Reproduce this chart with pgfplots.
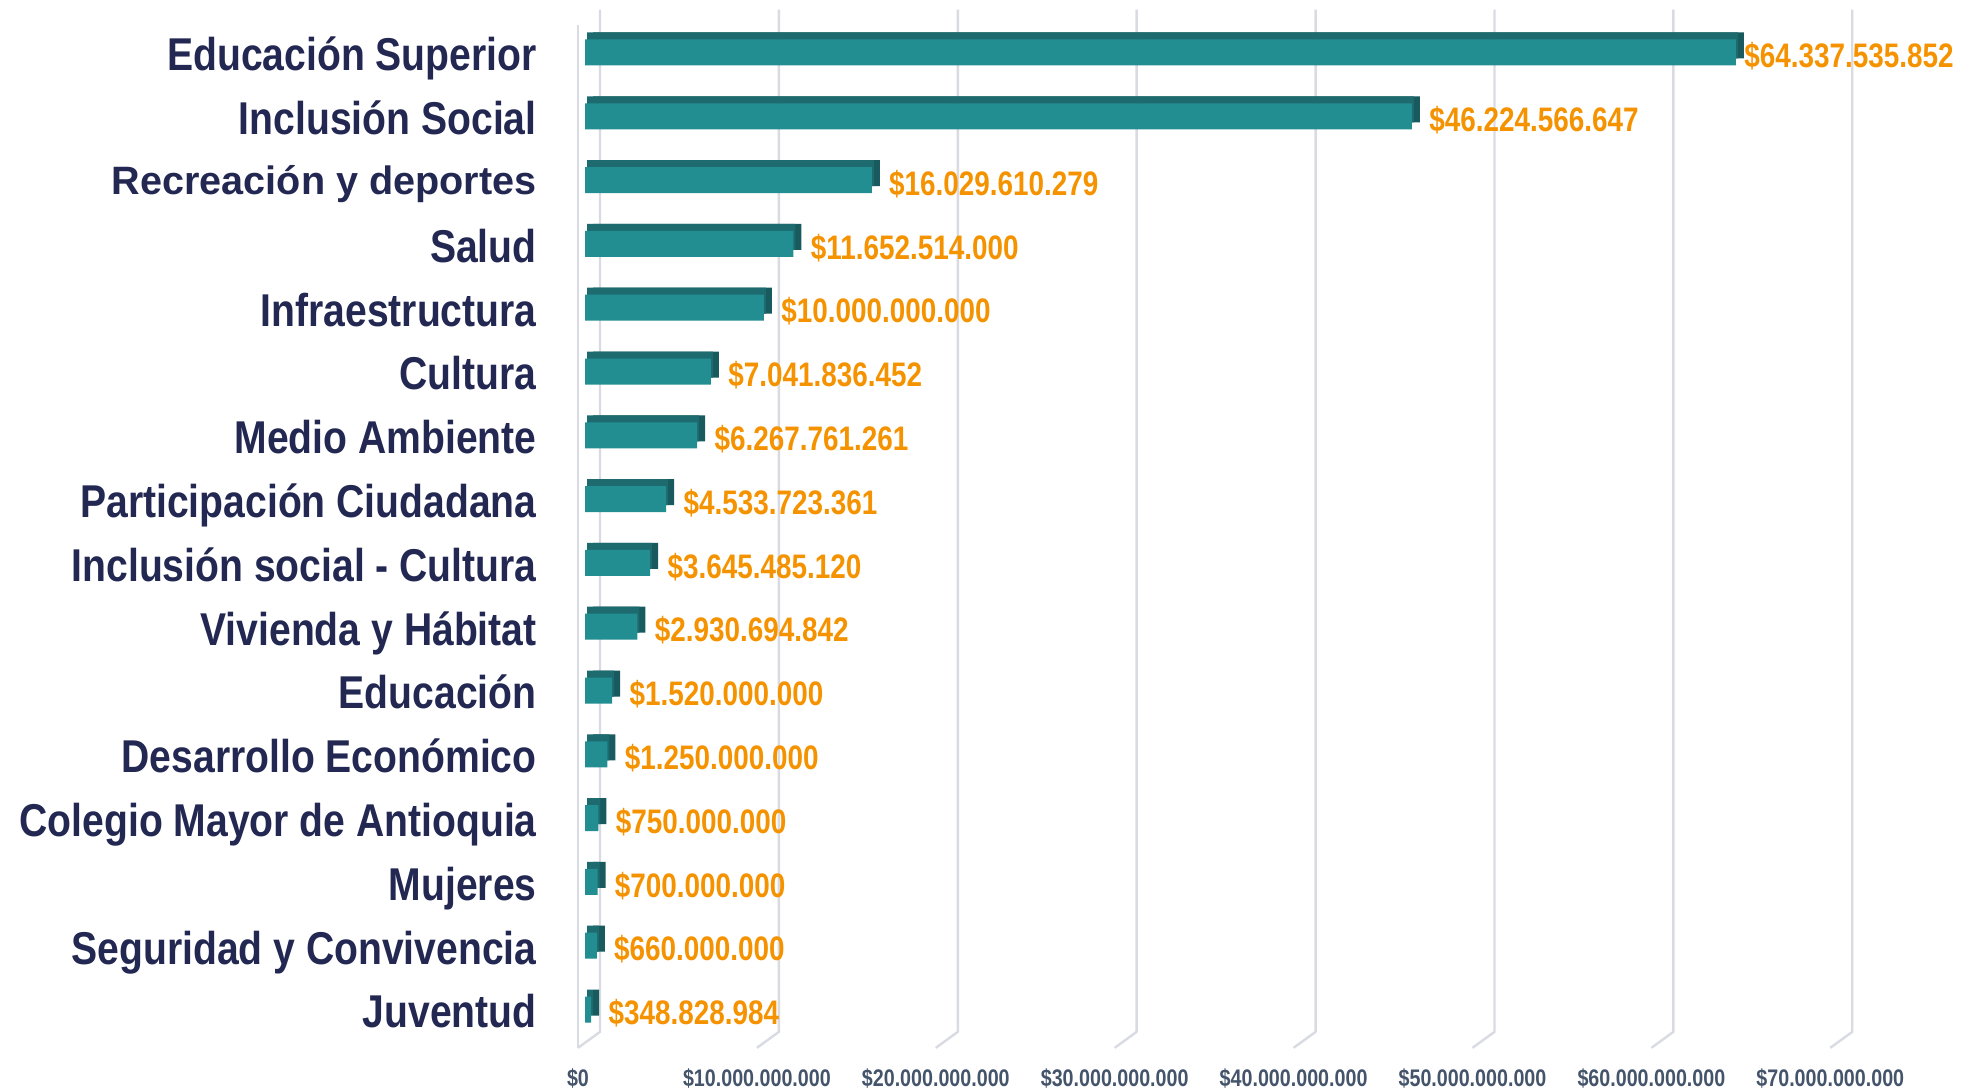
\documentclass[border=0pt]{standalone}
\usepackage{fontspec}
\setmainfont{Liberation Sans}
\newfontfamily\narrowfont{Liberation Sans}[FakeStretch=0.85]
\newfontfamily\numfont{Liberation Sans}[FakeStretch=0.82]
\newfontfamily\widefont{Liberation Sans}
\usepackage{pgfplots}
\usepackage{pgfplotstable}
\pgfplotsset{compat=1.18}
\definecolor{frontc}{RGB}{34,142,145}
\definecolor{topc}{RGB}{29,107,110}
\definecolor{endc}{RGB}{24,90,93}
\definecolor{valc}{RGB}{245,146,0}
\definecolor{catc}{RGB}{35,40,82}
\definecolor{tickc}{RGB}{68,84,106}
\definecolor{gridc}{RGB}{217,219,226}

\pgfplotstableread{
row value label dx
0 64337535852 64.337.535.852 4
1 46224566647 46.224.566.647 8.5
2 16029610279 16.029.610.279 8.5
3 11652514000 11.652.514.000 8.5
4 10000000000 10.000.000.000 8.5
5 7041836452 7.041.836.452 8.5
6 6267761261 6.267.761.261 8.5
7 4533723361 4.533.723.361 8.5
8 3645485120 3.645.485.120 8.5
9 2930694842 2.930.694.842 8.5
10 1520000000 1.520.000.000 8.5
11 1250000000 1.250.000.000 8.5
12 750000000 750.000.000 8.5
13 700000000 700.000.000 8.5
14 660000000 660.000.000 8.5
15 348828984 348.828.984 8.5
}\datatable

\begin{document}
\begin{tikzpicture}
\useasboundingbox (0,0) rectangle (985pt,544pt);
\begin{axis}[
  at={(292.5pt,20.1pt)}, anchor=south west,
  scale only axis, width=626.15pt, height=516.8pt,
  xmin=0, xmax=7e10, ymin=-0.6, ymax=15.6, y dir=reverse,
  enlargelimits=false, clip=false,
  axis line style={draw=none}, tick style={draw=none}, major tick length=0pt,
  scaled x ticks=false,
  xtick={0,1e10,2e10,3e10,4e10,5e10,6e10,7e10},
  xticklabels={\$0,\$10.000.000.000,\$20.000.000.000,\$30.000.000.000,\$40.000.000.000,\$50.000.000.000,\$60.000.000.000,\$70.000.000.000},
  xticklabel style={font=\numfont\bfseries\fontsize{12pt}{14pt}\selectfont, text=tickc, anchor=base, inner sep=0pt, xshift=-3.5pt, yshift=-19.1pt},
  ytick={0,...,15},
  yticklabels={Educación Superior,Inclusión Social,{\widefont\fontsize{19.8pt}{22pt}\selectfont\raisebox{1.8pt}{Recreación y deportes}},Salud,Infraestructura,Cultura,Medio Ambiente,Participación Ciudadana,Inclusión social - Cultura,{Vivienda y Hábitat\ },Educación,Desarrollo Económico,Colegio Mayor de Antioquia,Mujeres,Seguridad y Convivencia,Juventud},
  yticklabel style={font=\narrowfont\bfseries\fontsize{23pt}{26pt}\selectfont, text=catc, anchor=base east, inner sep=0pt, xshift=-24pt, yshift=-9.2pt},
]
\pgfplotsinvokeforeach{0,1e10,2e10,3e10,4e10,5e10,6e10,7e10}{
  \draw[gridc, line width=1.2pt, line join=round] ([xshift=7.5pt]axis cs:#1,-0.67) -- ([xshift=7.5pt]axis cs:#1,15.35) -- ([xshift=-3.5pt]axis cs:#1,15.6);
}
\draw[gridc, line width=1.2pt] ([xshift=-3.5pt]axis cs:0,-0.43) -- ([xshift=-3.5pt]axis cs:0,15.6);

\addplot[xbar, bar width=13pt, bar shift=0pt, draw=none, fill=endc, xshift=4pt, yshift=3.5pt] table[x=value,y=row]{\datatable};
\addplot[xbar, bar width=13pt, bar shift=0pt, draw=none, fill=topc, xshift=1pt, yshift=3.5pt] table[x=value,y=row]{\datatable};
\addplot[xbar, bar width=13pt, bar shift=0pt, draw=none, fill=frontc,
  point meta=explicit symbolic,
  visualization depends on={\thisrow{dx} \as \labdx},
  nodes near coords={\$\pgfplotspointmeta},
  nodes near coords align=horizontal,
  nodes near coords style={anchor=base west, inner sep=0pt, xshift=\labdx pt, yshift=-7.6pt, text=valc, font=\numfont\bfseries\fontsize{17pt}{20pt}\selectfont}
] table[x=value,y=row,meta=label]{\datatable};
\end{axis}
\end{tikzpicture}
\end{document}
